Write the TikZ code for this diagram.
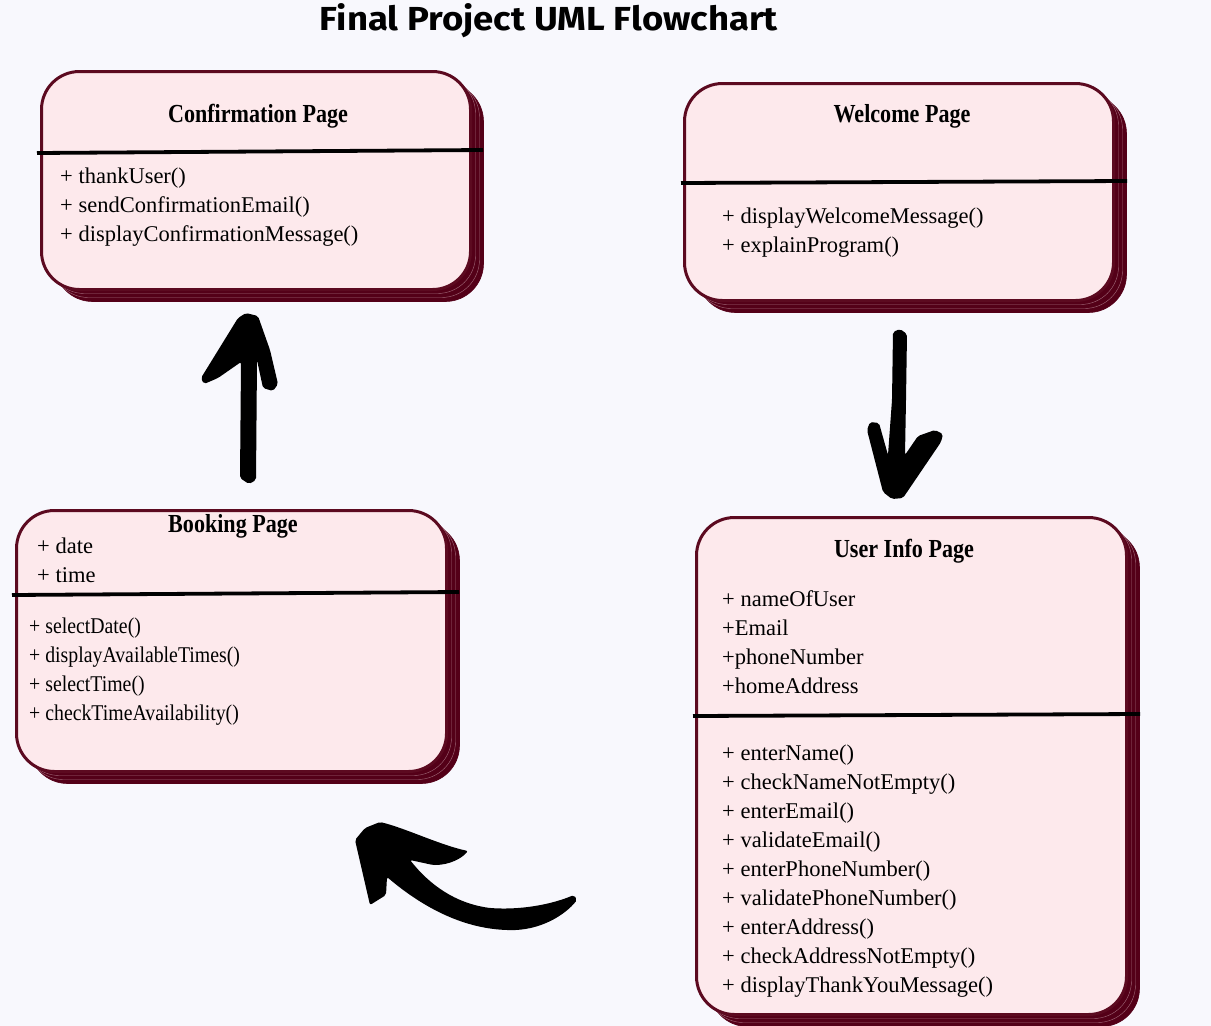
\documentclass[tikz,border=0pt]{standalone}
\usepackage{fontspec}
\setmainfont{Liberation Serif}
\newfontfamily\titlefont{Fira Sans}
\usetikzlibrary{shadows}
\definecolor{bgc}{HTML}{F8F8FD}
\definecolor{boxfill}{HTML}{FDE9EC}
\definecolor{boxline}{HTML}{5C0A20}
\definecolor{shadowc}{HTML}{540018}
\definecolor{shadowedge}{HTML}{A06878}
\tikzset{
  umlbox/.style={draw=boxline, line width=3pt, fill=boxfill, rounded corners=38pt,
    inner sep=0pt, anchor=north west,
    general shadow={shadow xshift=13pt, shadow yshift=-12pt, fill=shadowc, draw=shadowc, line width=0.6pt},
    general shadow={shadow xshift=9pt, shadow yshift=-8pt, fill=shadowc, draw=shadowedge, line width=0.4pt},
    general shadow={shadow xshift=5pt, shadow yshift=-4pt, fill=shadowc, draw=shadowedge, line width=0.4pt}},
  divider/.style={draw=black, line width=3.8pt},
  txt/.style={anchor=base west, inner sep=0pt, font=\fontsize{22.5}{29}\selectfont},
  ttl/.style={anchor=base, inner sep=0pt, font=\fontsize{26}{30}\selectfont\bfseries},
  brush/.style={fill=black, rounded corners=2pt},
}
\newcommand{\ttlscale}[1]{\scalebox{0.85}[1]{#1}}
\newcommand{\narrow}[1]{\scalebox{0.88}[1]{#1}}
\begin{document}
\begin{tikzpicture}[x=1pt,y=-1pt]
\fill[bgc] (0,0) rectangle (1211,1026);
\useasboundingbox (0,0) rectangle (1211,1026);

% title
\node[inner sep=0pt, anchor=base] (title) at (549,30)
  {\resizebox{458pt}{27pt}{\titlefont\bfseries Final Project UML Flowchart}};

% boxes
\node[umlbox, minimum width=429pt, minimum height=218pt] (conf) at (40,70) {};
\node[umlbox, minimum width=429pt, minimum height=217pt] (welc) at (683,82) {};
\node[umlbox, minimum width=430pt, minimum height=261pt] (book) at (15,509) {};
\node[umlbox, minimum width=430pt, minimum height=497pt] (user) at (695,516) {};

% dividers
\draw[divider] (37,153) -- (483,150);
\draw[divider] (681,183) -- (1127,181);
\draw[divider] (12,595) -- (459,592);
\draw[divider] (693,716) -- (1140,714);

% Confirmation Page
\node[ttl] (confT) at (258,122) {\ttlscale{Confirmation Page}};
\node[txt] (c1) at (60,183) {+ thankUser()};
\node[txt] (c2) at (60,212) {+ sendConfirmationEmail()};
\node[txt] (c3) at (60,241) {+ displayConfirmationMessage()};

% Welcome Page
\node[ttl] (welcT) at (902,122) {\ttlscale{Welcome Page}};
\node[txt] (w1) at (722,223) {+ displayWelcomeMessage()};
\node[txt] (w2) at (722,252) {+ explainProgram()};

% Booking Page
\node[ttl] (bookT) at (233,532) {\ttlscale{Booking Page}};
\node[txt] (ba1) at (37,553) {+ date};
\node[txt] (ba2) at (37,582) {+ time};
\node[txt] (bm1) at (29,633) {\narrow{+ selectDate()}};
\node[txt] (bm2) at (29,662) {\narrow{+ displayAvailableTimes()}};
\node[txt] (bm3) at (29,691) {\narrow{+ selectTime()}};
\node[txt] (bm4) at (29,720) {\narrow{+ checkTimeAvailability()}};

% User Info Page
\node[ttl] (userT) at (904,557) {\ttlscale{User Info Page}};
\node[txt] (ua1) at (722,606) {+ nameOfUser};
\node[txt] (ua2) at (722,635) {+Email};
\node[txt] (ua3) at (722,664) {+phoneNumber};
\node[txt] (ua4) at (722,693) {+homeAddress};
\node[txt] (um1) at (722,760) {+ enterName()};
\node[txt] (um2) at (722,789) {+ checkNameNotEmpty()};
\node[txt] (um3) at (722,818) {+ enterEmail()};
\node[txt] (um4) at (722,847) {+ validateEmail()};
\node[txt] (um5) at (722,876) {+ enterPhoneNumber()};
\node[txt] (um6) at (722,905) {+ validatePhoneNumber()};
\node[txt] (um7) at (722,934) {+ enterAddress()};
\node[txt] (um8) at (722,963) {+ checkAddressNotEmpty()};
\node[txt] (um9) at (722,992) {+ displayThankYouMessage()};

% brush arrows
% Booking -> Confirmation (up)
\fill[brush] (240,478) -- (241,362) -- (218,378) -- (204,384) -- (201,378)
  -- (238,318) -- (246,313) -- (258,316) -- (270,350) -- (278,384) -- (273,391)
  -- (263,388) -- (257,360) -- (256,480) -- (249,484) -- cycle;
% Welcome -> User Info (down)
\fill[brush] (893,332) -- (900,329) -- (907,334) -- (906,400) -- (905,455)
  -- (918,436) -- (935,430) -- (943,434) -- (941,442) -- (903,498) -- (892,499)
  -- (883,492) -- (867,430) -- (870,422) -- (879,423) -- (888,455) -- (892,400) -- cycle;
% User Info -> Booking (curved)
\fill[brush] (355,840) -- (370,905) -- (386,895) -- (387,877)
  .. controls (420,905) and (460,928) .. (507,930)
  .. controls (540,931) and (565,915) .. (577,900) -- (574,895)
  .. controls (550,905) and (520,910) .. (490,908)
  .. controls (455,903) and (430,885) .. (410,860) -- (433,865)
  .. controls (450,865) and (462,858) .. (468,851)
  .. controls (440,845) and (405,828) .. (380,822) -- (365,828) -- cycle;
\end{tikzpicture}
\end{document}
